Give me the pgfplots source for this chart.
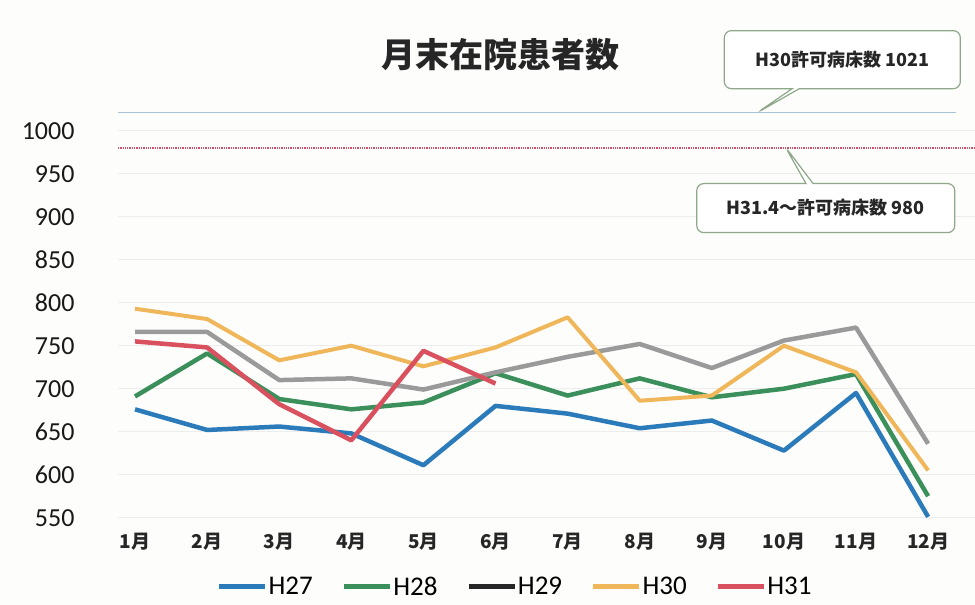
\documentclass[border=0pt]{standalone}
\usepackage{fontspec}
\setmainfont{Carlito}
\newfontfamily\cjk{Noto Sans CJK JP}
\usepackage{pgfplots}
\pgfplotsset{compat=1.18}
\usetikzlibrary{shapes.callouts}
\definecolor{cH27}{HTML}{2B7BBA}
\definecolor{cH28}{HTML}{3A8F5A}
\definecolor{cH29}{HTML}{9A9A9A}
\definecolor{cH30}{HTML}{F0B65A}
\definecolor{cH31}{HTML}{D9505F}
\definecolor{cRefA}{HTML}{A9C4D4}
\definecolor{cRefB}{HTML}{D0506A}
\definecolor{cBox}{HTML}{8FA88A}
\definecolor{bg}{HTML}{FDFDFB}
\begin{document}
\begin{tikzpicture}
\path[use as bounding box, fill=bg] (-118pt,-83pt) rectangle (857pt,522pt);
\node[font=\cjk\bfseries\fontsize{34}{38}\selectfont, text=black!85] at (382pt,467pt) {月末在院患者数};
\begin{axis}[
  at={(0pt,0pt)}, anchor=south west, scale only axis,
  width=857pt, height=442.9pt,
  xmin=-0.236, xmax=11.65, ymin=545, ymax=1060,
  clip=false,
  axis line style={draw=none},
  major tick length=0pt,
  xtick={0,...,11},
  xticklabels={1月,2月,3月,4月,5月,6月,7月,8月,9月,10月,11月,12月},
  xticklabel style={font=\cjk\bfseries\fontsize{19}{22}\selectfont, text=black!85, yshift=-8pt},
  ytick={550,600,...,1000},
  yticklabel style={font=\fontsize{26}{28}\selectfont, text=black!90, xshift=-40pt, anchor=east},
  /pgf/number format/assume math mode=true,
  /pgf/number format/set thousands separator={},
  ymajorgrids, grid style={color=black!7, line width=1pt},
  legend style={at={(0.463,-0.146)}, anchor=center, legend columns=5, draw=none, fill=none,
    font=\fontsize{27}{28}\selectfont, nodes={inner sep=1pt},
    /tikz/every even column/.append style={column sep=28pt}},
  legend image code/.code={\draw[#1, line width=4.5pt] (0pt,0pt) -- (46pt,0pt);},
]
\addplot[cRefA, line width=1.3pt, forget plot] coordinates {(-0.236,1021) (11.38,1021)};
\addplot[cRefB, line width=1.3pt, densely dotted, forget plot] coordinates {(-0.236,980) (11.65,980)};
\addplot[cH27, line width=4.5pt, line join=round, forget plot] coordinates {
(0,676) (1,652) (2,656) (3,648) (4,611) (5,680) (6,671) (7,654) (8,663) (9,628) (10,695) (11,551)};
\addplot[cH28, line width=4.5pt, line join=round, forget plot] coordinates {
(0,691) (1,741) (2,688) (3,676) (4,684) (5,718) (6,692) (7,712) (8,690) (9,700) (10,717) (11,575)};
\addplot[cH29, line width=4.5pt, line join=round, forget plot] coordinates {
(0,766) (1,766) (2,710) (3,712) (4,699) (5,719) (6,737) (7,752) (8,724) (9,756) (10,771) (11,636)};
\addplot[cH30, line width=4pt, line join=round, forget plot] coordinates {
(0,793) (1,781) (2,733) (3,750) (4,726) (5,748) (6,783) (7,686) (8,692) (9,750) (10,719) (11,605)};
\addplot[cH31, line width=4.5pt, line join=round, forget plot] coordinates {
(0,755) (1,748) (2,682) (3,640) (4,744) (5,706)};
\addlegendimage{cH27}\addlegendentry{H27}
\addlegendimage{cH28}\addlegendentry{H28}
\addlegendimage{black!85}\addlegendentry{H29}
\addlegendimage{cH30}\addlegendentry{H30}
\addlegendimage{cH31}\addlegendentry{H31}
\node[rectangle callout, draw=cBox, line width=1.2pt, fill=white, rounded corners=7pt,
  minimum width=236pt, minimum height=58pt, font=\cjk\bfseries\fontsize{18}{20}\selectfont, text=black!85,
  callout absolute pointer={(axis cs:8.63,1021)}] at (axis cs:9.81,1082.6) {H30許可病床数 1021};
\node[rectangle callout, draw=cBox, line width=1.2pt, fill=white, rounded corners=7pt,
  minimum width=258pt, minimum height=49pt, font=\cjk\bfseries\fontsize{18}{20}\selectfont, text=black!85,
  callout absolute pointer={(axis cs:9.02,981)}] at (axis cs:9.58,910) {H31.4〜許可病床数 980};
\end{axis}
\end{tikzpicture}
\end{document}
